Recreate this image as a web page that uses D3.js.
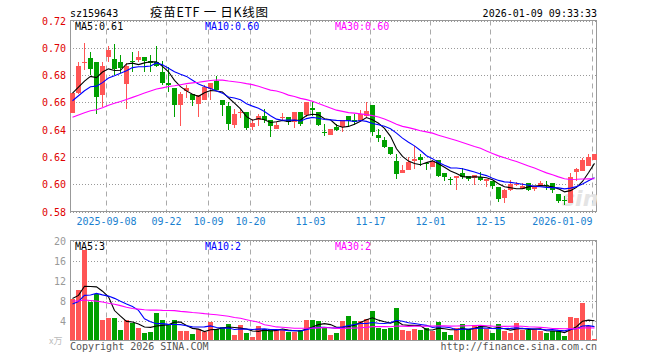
<!DOCTYPE html>
<html lang="zh">
  <head>
    <meta charset="utf-8">
    <title>sz159643 疫苗ETF 日K线图</title>
    <script type="text/javascript" src="https://cdn.jsdelivr.net/npm/d3@7"></script>
    <style type="text/css">
      body { margin: 0; background: #fff; }
      svg text { font-family: "DejaVu Sans Mono", "Liberation Mono", monospace; font-size: 10px; }
    </style>
  </head>
  <body>
    <script type="text/javascript">

      //Width and height
      var w = 660;
      var h = 360;

      //Trading days in the window
      var dates = [
        "2025-08-29", "2025-09-01", "2025-09-02", "2025-09-03", "2025-09-04", "2025-09-05",
        "2025-09-08", "2025-09-09", "2025-09-10", "2025-09-11", "2025-09-12",
        "2025-09-15", "2025-09-16", "2025-09-17", "2025-09-18", "2025-09-19",
        "2025-09-22", "2025-09-23", "2025-09-24", "2025-09-25", "2025-09-26",
        "2025-09-29", "2025-09-30", "2025-10-09", "2025-10-10",
        "2025-10-13", "2025-10-14", "2025-10-15", "2025-10-16", "2025-10-17",
        "2025-10-20", "2025-10-21", "2025-10-22", "2025-10-23", "2025-10-24",
        "2025-10-27", "2025-10-28", "2025-10-29", "2025-10-30", "2025-10-31",
        "2025-11-03", "2025-11-04", "2025-11-05", "2025-11-06", "2025-11-07",
        "2025-11-10", "2025-11-11", "2025-11-12", "2025-11-13", "2025-11-14",
        "2025-11-17", "2025-11-18", "2025-11-19", "2025-11-20", "2025-11-21",
        "2025-11-24", "2025-11-25", "2025-11-26", "2025-11-27", "2025-11-28",
        "2025-12-01", "2025-12-02", "2025-12-03", "2025-12-04", "2025-12-05",
        "2025-12-08", "2025-12-09", "2025-12-10", "2025-12-11", "2025-12-12",
        "2025-12-15", "2025-12-16", "2025-12-17", "2025-12-18", "2025-12-19",
        "2025-12-22", "2025-12-23", "2025-12-24", "2025-12-25", "2025-12-26",
        "2025-12-29", "2025-12-30", "2025-12-31",
        "2026-01-05", "2026-01-06", "2026-01-07", "2026-01-08", "2026-01-09"
      ];

      var open = [
        0.6522, 0.6666, 0.6895, 0.6922, 0.6893, 0.6656, 0.6934, 0.6917, 0.6895, 0.6737,
        0.6903, 0.6905, 0.6929, 0.6902, 0.6893, 0.6822, 0.6741, 0.6707, 0.6585, 0.6683,
        0.6661, 0.6585, 0.6617, 0.6700, 0.6759, 0.6617, 0.6576, 0.6437, 0.6522, 0.6527,
        0.6415, 0.6473, 0.6502, 0.6473, 0.6410, 0.6492, 0.6493, 0.6456, 0.6527, 0.6502,
        0.6556, 0.6527, 0.6385, 0.6363, 0.6420, 0.6417, 0.6502, 0.6473, 0.6463, 0.6498,
        0.6583, 0.6359, 0.6327, 0.6273, 0.6173, 0.6088, 0.6107, 0.6176, 0.6200, 0.6158,
        0.6127, 0.6176, 0.6085, 0.6041, 0.6046, 0.6085, 0.6061, 0.6046, 0.6056, 0.6022,
        0.6020, 0.5980, 0.5898, 0.5959, 0.5993, 0.5971, 0.6012, 0.5966, 0.5990, 0.5993,
        0.6012, 0.5929, 0.5883, 0.5866, 0.6085, 0.6096, 0.6135, 0.6180
      ];
      var high = [
        0.6668, 0.6895, 0.7034, 0.6968, 0.6893, 0.6895, 0.7012, 0.7027, 0.6946, 0.6885,
        0.6966, 0.6978, 0.6929, 0.6946, 0.7012, 0.6900, 0.6856, 0.6707, 0.6678, 0.6730,
        0.6661, 0.6651, 0.6730, 0.6744, 0.6795, 0.6617, 0.6605, 0.6554, 0.6551, 0.6527,
        0.6480, 0.6512, 0.6554, 0.6473, 0.6456, 0.6522, 0.6493, 0.6527, 0.6527, 0.6600,
        0.6600, 0.6527, 0.6444, 0.6407, 0.6444, 0.6468, 0.6502, 0.6517, 0.6541, 0.6600,
        0.6583, 0.6405, 0.6346, 0.6273, 0.6224, 0.6139, 0.6202, 0.6278, 0.6224, 0.6158,
        0.6176, 0.6176, 0.6085, 0.6051, 0.6063, 0.6117, 0.6061, 0.6066, 0.6090, 0.6037,
        0.6020, 0.5980, 0.5968, 0.6031, 0.6017, 0.6010, 0.6012, 0.5988, 0.6027, 0.6027,
        0.6012, 0.5929, 0.5915, 0.6085, 0.6120, 0.6190, 0.6225, 0.6224
      ];
      var low = [
        0.6520, 0.6660, 0.6840, 0.6800, 0.6515, 0.6568, 0.6898, 0.6800, 0.6812, 0.6549,
        0.6820, 0.6898, 0.6820, 0.6820, 0.6858, 0.6727, 0.6678, 0.6495, 0.6429, 0.6630,
        0.6576, 0.6495, 0.6617, 0.6617, 0.6690, 0.6498, 0.6400, 0.6412, 0.6483, 0.6400,
        0.6400, 0.6429, 0.6449, 0.6344, 0.6405, 0.6463, 0.6434, 0.6410, 0.6429, 0.6493,
        0.6498, 0.6429, 0.6351, 0.6359, 0.6393, 0.6380, 0.6429, 0.6437, 0.6463, 0.6493,
        0.6354, 0.6307, 0.6266, 0.6217, 0.6037, 0.6080, 0.6107, 0.6115, 0.6137, 0.6105,
        0.6127, 0.6054, 0.6022, 0.5993, 0.5956, 0.6037, 0.6022, 0.5993, 0.6022, 0.5978,
        0.5966, 0.5871, 0.5861, 0.5949, 0.5985, 0.5966, 0.5949, 0.5949, 0.5990, 0.5954,
        0.5932, 0.5861, 0.5844, 0.5861, 0.6022, 0.6096, 0.6130, 0.6175
      ];
      var close = [
        0.6665, 0.6866, 0.6898, 0.6844, 0.6634, 0.6868, 0.6983, 0.6841, 0.6849, 0.6866,
        0.6900, 0.6929, 0.6902, 0.6890, 0.6861, 0.6739, 0.6729, 0.6585, 0.6663, 0.6705,
        0.6617, 0.6651, 0.6715, 0.6744, 0.6690, 0.6578, 0.6441, 0.6517, 0.6532, 0.6410,
        0.6446, 0.6502, 0.6473, 0.6432, 0.6437, 0.6495, 0.6456, 0.6527, 0.6441, 0.6600,
        0.6539, 0.6434, 0.6383, 0.6407, 0.6398, 0.6468, 0.6463, 0.6459, 0.6517, 0.6537,
        0.6386, 0.6335, 0.6273, 0.6224, 0.6080, 0.6107, 0.6163, 0.6188, 0.6178, 0.6156,
        0.6171, 0.6059, 0.6059, 0.6039, 0.6063, 0.6059, 0.6041, 0.6066, 0.6037, 0.6037,
        0.5983, 0.5895, 0.5954, 0.6002, 0.5998, 0.5990, 0.5959, 0.5988, 0.6012, 0.5990,
        0.5959, 0.5880, 0.5880, 0.6056, 0.6110, 0.6175, 0.6200, 0.6222
      ];

      //Volume, in 万 lots
      var volume = [
        8.4, 10.1, 18.2, 7.67, 9.27, 4.07, 4.47, 4.47, 2.07, 4.07,
        3.47, 2.47, 1.47, 1.67, 5.47, 4.07, 3.07, 4.07, 1.87, 1.87,
        1.27, 2.27, 1.67, 3.67, 2.27, 2.67, 3.27, 1.07, 3.07, 1.47,
        0.67, 2.87, 2.27, 2.27, 2.07, 2.07, 1.67, 1.67, 2.07, 4.07,
        4.07, 4.0, 2.67, 1.07, 1.47, 3.93, 4.87, 3.87, 3.87, 4.27,
        5.87, 2.47, 2.27, 2.47, 6.47, 2.07, 1.87, 2.27, 2.07, 2.47,
        1.87, 3.67, 1.67, 1.07, 2.47, 3.27, 2.27, 3.07, 2.87, 2.27,
        1.47, 3.27, 1.87, 1.47, 3.47, 2.07, 2.07, 2.27, 1.87, 1.47,
        1.87, 1.87, 0.87, 4.67, 4.47, 7.47, 2.87, 0.27
      ];

      //29 sessions before the window (estimated), only used to seed the moving averages
      var preClose = [
        0.636, 0.639, 0.642, 0.640, 0.644, 0.641, 0.643, 0.645, 0.642, 0.644,
        0.646, 0.643, 0.641, 0.645, 0.648, 0.644, 0.642, 0.643, 0.646, 0.645,
        0.650, 0.653, 0.655, 0.659, 0.661, 0.664, 0.668, 0.667, 0.668
      ];
      var preVolume = [
        10, 12, 11, 13, 9, 12, 11, 10, 14, 11,
        6, 5, 4, 5, 6, 4, 5, 6, 5, 5,
        5, 6, 7, 6, 7, 7, 9, 8, 9.6
      ];

      //Axis labels and legends
      var priceTicks = [0.58, 0.60, 0.62, 0.64, 0.66, 0.68, 0.70, 0.72];
      var volumeTicks = [4, 8, 12, 16, 20];
      var tickDates = ["2025-09-08", "2025-09-22", "2025-10-09", "2025-10-20", "2025-11-03",
                       "2025-11-17", "2025-12-01", "2025-12-15", "2026-01-09"];
      var tickLabels = ["2025-09-08", "09-22", "10-09", "10-20", "11-03",
                        "11-17", "12-01", "12-15", "2026-01-09"];
      var maPeriods = [5, 10, 30];
      var maColors = ["#000000", "#0000ff", "#ff00ff"];
      var priceLegend = ["MA5:0.61", "MA10:0.60", "MA30:0.60"];
      var volumeLegend = ["MA5:3", "MA10:2", "MA30:2"];

      var up = "#ff5555";
      var down = "#00a000";

      //Scales
      var x = d3.scaleBand().domain(dates).range([70, 598]);
      var y = d3.scaleLinear().domain([0.58, 0.72]).range([211.5, 20.5]);
      var yv = d3.scaleLinear().domain([0, 20]).range([340.5, 240.5]);

      function movingAverage(pre, cur, n) {
        var all = pre.concat(cur);
        var off = pre.length;
        return cur.map(function(d, i) {
          return d3.mean(all.slice(off + i - n + 1, off + i + 1));
        });
      }

      function isUp(i) { return close[i] >= open[i]; }

      //Create SVG element
      var svg = d3.select("body")
                  .append("svg")
                  .attr("width", w)
                  .attr("height", h);

      //Header
      svg.append("text").attr("x", 70).attr("y", 17).text("sz159643");
      svg.append("text").attr("x", 150).attr("y", 16.5)
         .attr("textLength", 118).attr("lengthAdjust", "spacing")
         .style("font-family", "'Noto Sans CJK SC', sans-serif").style("font-size", "12.5px")
         .style("white-space", "pre")
         .text("疫苗ETF 一 日K线图");
      svg.append("text").attr("x", 597).attr("y", 17).attr("text-anchor", "end")
         .text("2026-01-09 09:33:33");

      //Panels: price and volume
      function panel(top, bottom, yScale, ticks, color) {
        var g = svg.append("g");

        g.selectAll(".hgrid")
         .data(ticks)
         .enter()
         .append("line")
         .attr("x1", 70).attr("x2", 597)
         .attr("y1", function(d) { return Math.round(yScale(d)) + 0.5; })
         .attr("y2", function(d) { return Math.round(yScale(d)) + 0.5; })
         .style("stroke", "#999")
         .style("stroke-dasharray", "1,2");

        g.selectAll(".vgrid")
         .data(tickDates)
         .enter()
         .append("line")
         .attr("x1", function(d) { return x(d) + 0.5; })
         .attr("x2", function(d) { return x(d) + 0.5; })
         .attr("y1", top).attr("y2", bottom)
         .style("stroke", "#aaa")
         .style("stroke-dasharray", "5,4");

        g.append("rect")
         .attr("x", 70.5).attr("y", top)
         .attr("width", 526).attr("height", bottom - top)
         .style("fill", "none")
         .style("stroke", "#999");

        var axis = g.append("g")
                    .attr("transform", "translate(70,0)")
                    .call(d3.axisLeft(yScale).tickValues(ticks).tickSize(0).tickPadding(4)
                            .tickFormat(function(d) { return color === "#999" ? d : d.toFixed(2); }));
        axis.select(".domain").remove();
        axis.selectAll("text")
            .style("font-family", "'DejaVu Sans Mono', monospace")
            .style("font-size", "10px")
            .style("fill", color)
            .attr("dy", "0.36em");
        return g;
      }

      panel(20.5, 211.5, y, priceTicks, "#e00000");
      panel(240.5, 340.5, yv, volumeTicks, "#999");

      //Date labels
      var xAxis = svg.append("g")
                     .attr("transform", "translate(0,211)")
                     .call(d3.axisBottom(x).tickValues(tickDates).tickSize(0).tickPadding(7)
                             .tickFormat(function(d, i) { return tickLabels[i]; }));
      xAxis.select(".domain").remove();
      xAxis.selectAll(".tick").attr("transform", function(d) { return "translate(" + (x(d) + 0.5) + ",0)"; });
      xAxis.selectAll("text")
           .style("font-family", "'DejaVu Sans Mono', monospace")
           .style("font-size", "10px")
           .style("fill", "#1a7fd0")
           .attr("text-anchor", function(d, i) { return i === tickDates.length - 1 ? "end" : "middle"; });

      //Watermark
      svg.append("clipPath").attr("id", "clip")
         .append("rect").attr("x", 70).attr("y", 20).attr("width", 527).attr("height", 192);
      svg.append("text")
         .attr("clip-path", "url(#clip)")
         .attr("x", 562).attr("y", 206)
         .style("font-family", "'DejaVu Sans', sans-serif")
         .style("font-size", "22px")
         .style("font-style", "italic")
         .style("font-weight", "bold")
         .style("fill", "#e4e4e4")
         .text("sina");

      //Candles
      var idx = d3.range(dates.length);

      svg.selectAll(".wick")
         .data(idx)
         .enter()
         .append("line")
         .attr("x1", function(i) { return x(dates[i]) + 2.5; })
         .attr("x2", function(i) { return x(dates[i]) + 2.5; })
         .attr("y1", function(i) { return Math.round(y(high[i])); })
         .attr("y2", function(i) { return Math.round(y(low[i])); })
         .style("stroke", function(i) { return isUp(i) ? up : down; })
         .style("shape-rendering", "crispEdges");

      svg.selectAll(".body")
         .data(idx)
         .enter()
         .append("rect")
         .attr("x", function(i) { return x(dates[i]); })
         .attr("width", 5)
         .attr("y", function(i) { return Math.round(y(Math.max(open[i], close[i]))); })
         .attr("height", function(i) {
           return Math.max(1, Math.round(Math.abs(y(open[i]) - y(close[i]))));
         })
         .style("fill", function(i) { return isUp(i) ? up : down; })
         .style("shape-rendering", "crispEdges");

      //Volume bars
      svg.selectAll(".vol")
         .data(idx)
         .enter()
         .append("rect")
         .attr("x", function(i) { return x(dates[i]); })
         .attr("width", 5)
         .attr("y", function(i) { return Math.round(yv(volume[i])); })
         .attr("height", function(i) { return 340 - Math.round(yv(volume[i])); })
         .style("fill", function(i) { return isUp(i) ? up : down; })
         .style("shape-rendering", "crispEdges");

      //Moving averages
      maPeriods.forEach(function(n, k) {
        var pm = movingAverage(preClose, close, n);
        var vm = movingAverage(preVolume, volume, n);

        svg.append("path")
           .datum(pm)
           .attr("d", d3.line()
                        .x(function(d, i) { return x(dates[i]) + 2.5; })
                        .y(function(d) { return y(d); }))
           .style("fill", "none")
           .style("stroke", maColors[k])
           .style("stroke-width", 1.1);

        svg.append("path")
           .datum(vm)
           .attr("d", d3.line()
                        .x(function(d, i) { return x(dates[i]) + 2.5; })
                        .y(function(d) { return yv(d); }))
           .style("fill", "none")
           .style("stroke", maColors[k])
           .style("stroke-width", 1.1);

        svg.append("text")
           .attr("x", 75 + 130 * k).attr("y", 29.5)
           .style("fill", maColors[k])
           .text(priceLegend[k]);

        svg.append("text")
           .attr("x", 75 + 130 * k).attr("y", 250)
           .style("fill", maColors[k])
           .text(volumeLegend[k]);
      });

      //Unit and footer
      svg.append("text").attr("x", 49).attr("y", 343.5)
         .style("fill", "#bbb").style("font-size", "9px")
         .style("font-family", "'Noto Sans CJK SC', sans-serif")
         .text("x万");
      svg.append("text").attr("x", 70).attr("y", 349.5)
         .style("fill", "#555")
         .text("Copyright 2026 SINA.COM");
      svg.append("text").attr("x", 597).attr("y", 349.5).attr("text-anchor", "end")
         .style("fill", "#555")
         .text("http://finance.sina.com.cn");

    </script>
  </body>
</html>
